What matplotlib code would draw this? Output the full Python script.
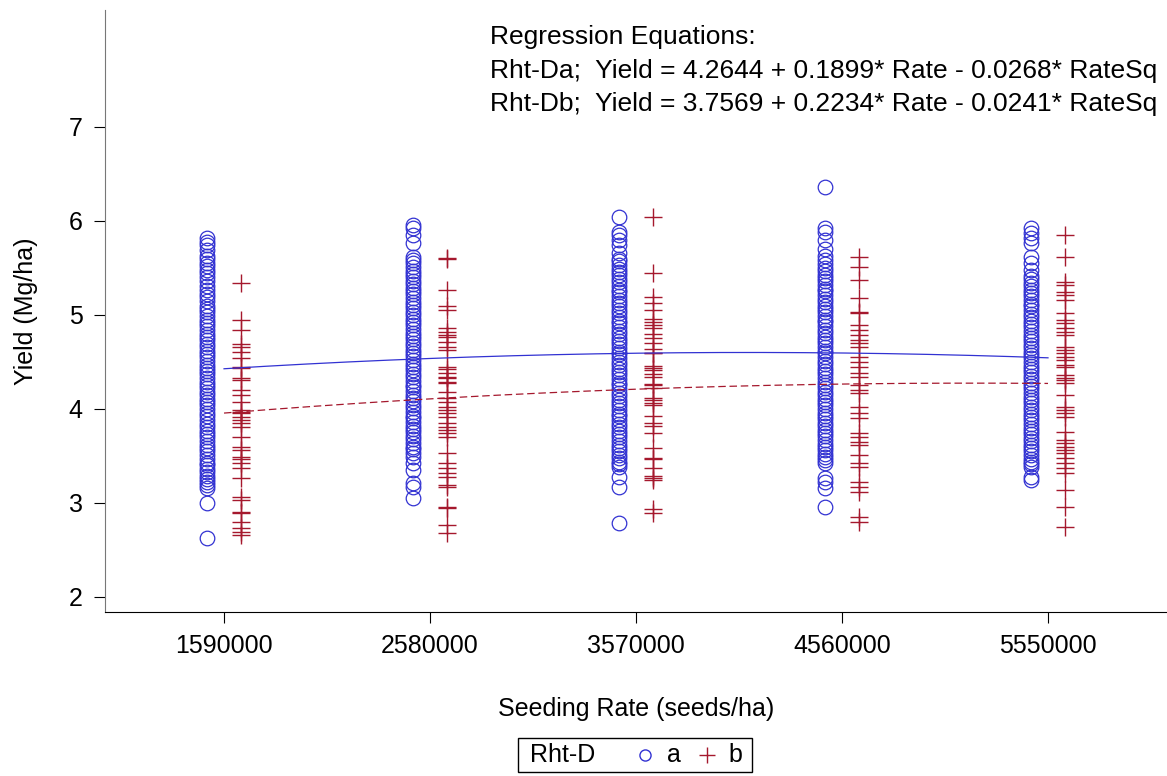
import numpy as np
import matplotlib.pyplot as plt
from matplotlib.lines import Line2D
from matplotlib.patches import Rectangle

plt.rcParams['font.family'] = ['Liberation Sans', 'DejaVu Sans']

# seeding rates (seeds/ha)
rates = [1590000, 2580000, 3570000, 4560000, 5550000]

# Rht-D a (circles), one list per seeding rate
yield_a = [
    [5.82, 5.78, 5.74, 5.69, 5.63, 5.60, 5.55, 5.52, 5.48, 5.45, 5.40, 5.36, 5.31, 5.27,
     5.22, 5.19, 5.15, 5.10, 5.06, 5.03, 4.99, 4.95, 4.91, 4.88, 4.84, 4.80, 4.77, 4.73,
     4.69, 4.66, 4.62, 4.58, 4.55, 4.51, 4.47, 4.44, 4.40, 4.37, 4.33, 4.29, 4.26, 4.22,
     4.18, 4.15, 4.11, 4.07, 4.04, 4.00, 3.96, 3.92, 3.88, 3.84, 3.81, 3.77, 3.73, 3.70,
     3.66, 3.62, 3.58, 3.55, 3.51, 3.47, 3.43, 3.40, 3.36, 3.33, 3.29, 3.26, 3.22, 3.19,
     3.16, 3.00, 2.63],
    [5.96, 5.93, 5.85, 5.77, 5.62, 5.58, 5.55, 5.51, 5.47, 5.44, 5.40, 5.36, 5.33, 5.29,
     5.25, 5.22, 5.18, 5.14, 5.11, 5.07, 5.03, 5.00, 4.96, 4.92, 4.89, 4.85, 4.81, 4.78,
     4.74, 4.70, 4.67, 4.63, 4.59, 4.56, 4.52, 4.48, 4.45, 4.41, 4.37, 4.34, 4.30, 4.26,
     4.23, 4.19, 4.15, 4.12, 4.08, 4.04, 4.01, 3.97, 3.93, 3.90, 3.86, 3.82, 3.79, 3.75,
     3.71, 3.68, 3.64, 3.60, 3.57, 3.53, 3.49, 3.43, 3.35, 3.21, 3.17, 3.05],
    [6.04, 5.88, 5.85, 5.80, 5.74, 5.66, 5.60, 5.57, 5.53, 5.49, 5.46, 5.42, 5.38, 5.35,
     5.31, 5.27, 5.24, 5.20, 5.16, 5.13, 5.09, 5.05, 5.02, 4.98, 4.94, 4.91, 4.87, 4.83,
     4.80, 4.76, 4.72, 4.69, 4.65, 4.61, 4.58, 4.54, 4.50, 4.47, 4.43, 4.39, 4.36, 4.32,
     4.28, 4.25, 4.21, 4.17, 4.14, 4.10, 4.06, 4.03, 3.99, 3.95, 3.92, 3.88, 3.84, 3.81,
     3.77, 3.73, 3.70, 3.66, 3.62, 3.59, 3.55, 3.51, 3.48, 3.44, 3.41, 3.38, 3.28, 3.17,
     2.79],
    [6.36, 5.93, 5.88, 5.80, 5.70, 5.63, 5.58, 5.54, 5.50, 5.47, 5.43, 5.39, 5.36, 5.32,
     5.28, 5.25, 5.21, 5.17, 5.14, 5.10, 5.06, 5.03, 4.99, 4.95, 4.92, 4.88, 4.84, 4.81,
     4.77, 4.73, 4.70, 4.66, 4.62, 4.59, 4.55, 4.51, 4.48, 4.44, 4.40, 4.37, 4.33, 4.29,
     4.26, 4.22, 4.18, 4.15, 4.11, 4.07, 4.04, 4.00, 3.96, 3.93, 3.89, 3.85, 3.82, 3.78,
     3.74, 3.71, 3.67, 3.63, 3.60, 3.56, 3.52, 3.49, 3.46, 3.43, 3.27, 3.22, 3.16, 2.96],
    [5.92, 5.87, 5.82, 5.77, 5.62, 5.55, 5.48, 5.41, 5.38, 5.34, 5.31, 5.27, 5.23, 5.20,
     5.16, 5.12, 5.09, 5.05, 5.01, 4.98, 4.94, 4.90, 4.87, 4.83, 4.79, 4.76, 4.72, 4.68,
     4.65, 4.61, 4.57, 4.54, 4.50, 4.46, 4.43, 4.39, 4.35, 4.32, 4.28, 4.24, 4.21, 4.17,
     4.13, 4.10, 4.06, 4.02, 3.99, 3.95, 3.91, 3.88, 3.84, 3.80, 3.77, 3.73, 3.69, 3.66,
     3.62, 3.58, 3.55, 3.51, 3.47, 3.44, 3.41, 3.38, 3.28, 3.24],
]

# Rht-D b (crosses)
yield_b = [
    [5.34, 4.95, 4.84, 4.69, 4.66, 4.61, 4.54, 4.45, 4.44, 4.33, 4.31, 4.20, 4.15, 4.07,
     3.99, 3.97, 3.96, 3.91, 3.88, 3.85, 3.81, 3.70, 3.60, 3.56, 3.49, 3.47, 3.43, 3.37,
     3.27, 3.06, 3.03, 2.90, 2.89, 2.80, 2.73, 2.69, 2.66],
    [5.61, 5.59, 5.27, 5.09, 5.05, 4.86, 4.82, 4.79, 4.77, 4.71, 4.66, 4.63, 4.45, 4.42,
     4.38, 4.34, 4.33, 4.29, 4.28, 4.18, 4.12, 4.07, 4.02, 3.99, 3.96, 3.91, 3.85, 3.81,
     3.78, 3.74, 3.70, 3.53, 3.43, 3.37, 3.32, 3.28, 3.19, 3.17, 2.96, 2.95, 2.77, 2.68],
    [6.04, 5.45, 5.19, 5.13, 5.05, 4.96, 4.92, 4.89, 4.86, 4.80, 4.76, 4.70, 4.64, 4.60,
     4.59, 4.46, 4.44, 4.41, 4.37, 4.34, 4.27, 4.25, 4.22, 4.12, 4.09, 4.06, 4.04, 3.93,
     3.85, 3.82, 3.74, 3.58, 3.48, 3.47, 3.37, 3.29, 3.27, 3.24, 2.94, 2.89],
    [5.62, 5.51, 5.37, 5.18, 5.03, 5.02, 4.89, 4.84, 4.79, 4.73, 4.70, 4.66, 4.55, 4.50,
     4.45, 4.38, 4.34, 4.26, 4.20, 4.17, 4.02, 3.96, 3.90, 3.74, 3.70, 3.65, 3.62, 3.51,
     3.43, 3.38, 3.22, 3.17, 3.12, 2.85, 2.80],
    [5.85, 5.62, 5.35, 5.32, 5.24, 5.21, 5.16, 5.02, 4.95, 4.91, 4.86, 4.82, 4.79, 4.66,
     4.63, 4.60, 4.55, 4.52, 4.47, 4.45, 4.36, 4.33, 4.31, 4.28, 4.15, 4.02, 3.99, 3.96,
     3.91, 3.76, 3.67, 3.64, 3.60, 3.56, 3.53, 3.48, 3.43, 3.37, 3.32, 3.14, 2.96, 2.74],
]

# regression coefficients: intercept, Rate, RateSq (Rate = 1..5)
coef_a = [4.2644, 0.1899, -0.0268]
coef_b = [3.7569, 0.2234, -0.0241]

blue = '#3232d2'
red = '#a5182d'
offset = 80000

fig = plt.figure(figsize=(11.67, 7.76), dpi=100)
ax = fig.add_axes([0.09, 0.2113, 0.91, 0.776])

for r, ya, yb in zip(rates, yield_a, yield_b):
    ax.plot([r - offset] * len(ya), ya, linestyle='none', marker='o', markersize=10.5,
            markerfacecolor='none', markeredgecolor=blue, markeredgewidth=0.9)
    ax.plot([r + offset] * len(yb), yb, linestyle='none', marker='+', markersize=13,
            color=red, markeredgewidth=1.0)

xs = np.linspace(rates[0], rates[-1], 200)
ri = 1 + (xs - rates[0]) / (rates[1] - rates[0])
ax.plot(xs, coef_a[0] + coef_a[1] * ri + coef_a[2] * ri ** 2, color=blue, lw=0.9)
ax.plot(xs, coef_b[0] + coef_b[1] * ri + coef_b[2] * ri ** 2, color=red, lw=0.9,
        linestyle=(0, (6, 3)))

ax.set_xlim(1018100, 6121900)
ax.set_ylim(1.84, 8.245)
ax.set_xticks(rates)
ax.set_xticklabels([str(r) for r in rates])
ax.set_yticks([2, 3, 4, 5, 6, 7])
ax.spines['top'].set_visible(False)
ax.spines['right'].set_visible(False)
ax.spines['left'].set_color('#777777')
ax.tick_params(labelsize=18, length=8, width=0.8, pad=8)
ax.set_xlabel('Seeding Rate (seeds/ha)', fontsize=18, labelpad=28)
ax.set_ylabel('Yield (Mg/ha)', fontsize=18, labelpad=22)

fig.text(0.42, 0.952, 'Regression Equations:', fontsize=19, va='center')
fig.text(0.42, 0.909, 'Rht-Da;  Yield = 4.2644 + 0.1899* Rate - 0.0268* RateSq',
         fontsize=19, va='center')
fig.text(0.42, 0.866, 'Rht-Db;  Yield = 3.7569 + 0.2234* Rate - 0.0241* RateSq',
         fontsize=19, va='center')

# legend box
fig.patches.append(Rectangle((518 / 1167, 1 - 772 / 776), 234 / 1167, 34 / 776,
                             transform=fig.transFigure, fill=False, ec='black', lw=1))
ly = 1 - 755 / 776
fig.text(530 / 1167, ly, 'Rht-D', fontsize=18, va='center')
fig.lines.append(Line2D([645 / 1167], [ly], marker='o', markersize=8, markerfacecolor='none',
                        markeredgecolor=blue, transform=fig.transFigure))
fig.text(667 / 1167, ly, 'a', fontsize=18, va='center')
fig.lines.append(Line2D([707 / 1167], [ly], marker='+', markersize=11, color=red,
                        transform=fig.transFigure))
fig.text(728 / 1167, ly, 'b', fontsize=18, va='center')

fig.savefig('out.png', dpi=100)
